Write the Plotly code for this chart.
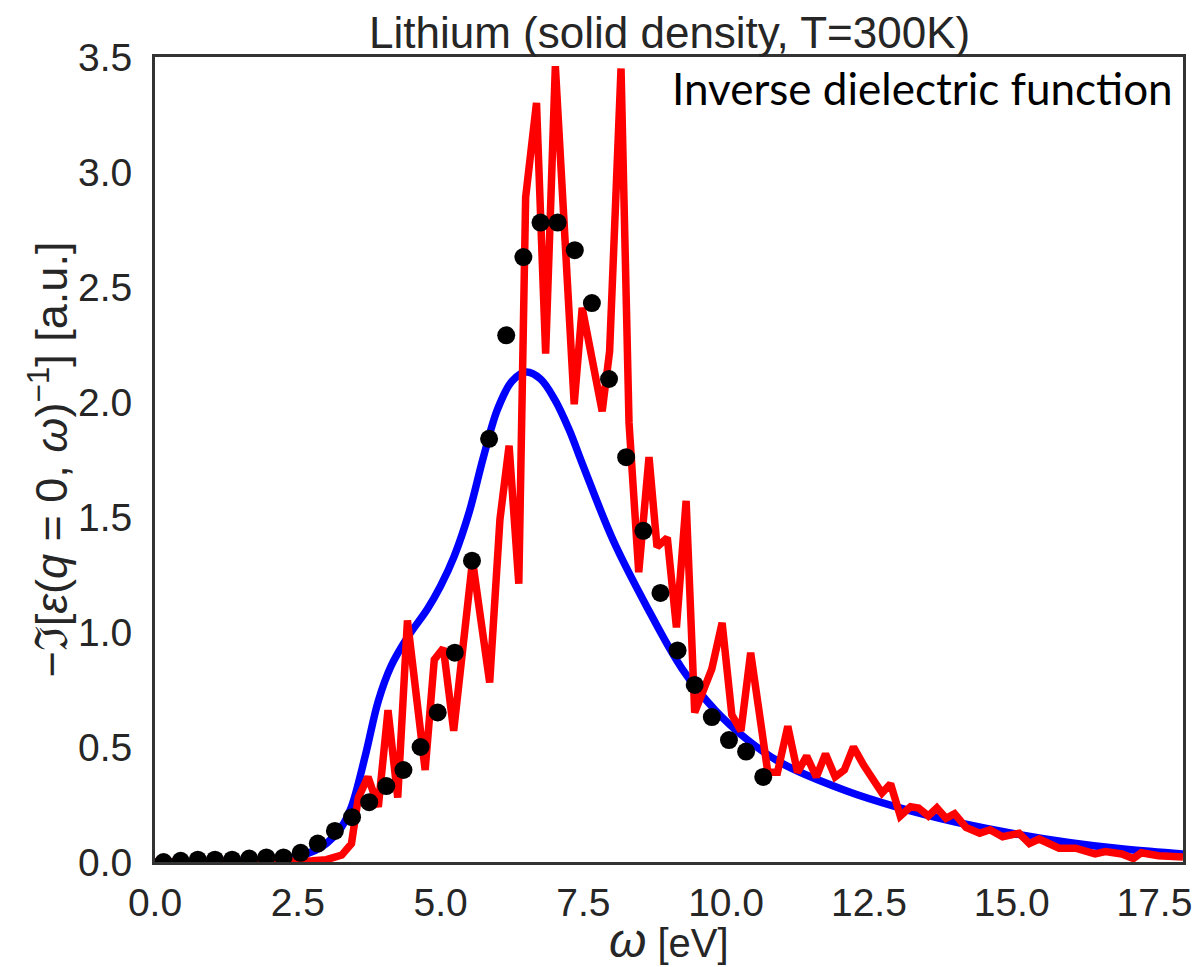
import plotly.graph_objects as go

# Experimental loss function (black dots)
exp_omega = [0.15, 0.45, 0.75, 1.05, 1.35, 1.65, 1.95, 2.25, 2.55, 2.85,
             3.15, 3.45, 3.75, 4.05, 4.35, 4.65, 4.95, 5.25, 5.55, 5.85,
             6.15, 6.45, 6.75, 7.05, 7.35, 7.65, 7.95, 8.25, 8.55, 8.85,
             9.15, 9.45, 9.75, 10.05, 10.35, 10.65]
exp_loss = [0.00, 0.005, 0.01, 0.01, 0.01, 0.015, 0.02, 0.02, 0.04, 0.08,
            0.135, 0.195, 0.26, 0.33, 0.40, 0.50, 0.65, 0.91, 1.31, 1.84,
            2.29, 2.63, 2.78, 2.78, 2.66, 2.43, 2.10, 1.76, 1.44, 1.17,
            0.92, 0.77, 0.63, 0.53, 0.48, 0.37]

# Smooth model (blue)
model_omega = [0.0, 0.5, 1.0, 1.5, 2.0, 2.5, 2.8, 3.0, 3.26, 3.44, 3.68, 3.91,
               4.13, 4.43, 4.77, 5.0, 5.24, 5.5, 5.75, 6.0, 6.25, 6.5, 6.75,
               7.0, 7.25, 7.5, 8.02, 8.59, 9.23, 9.81, 10.38, 10.97, 12.1,
               12.98, 14.0, 15.0, 16.0, 17.0, 18.0]
model_loss = [0.0, 0.002, 0.004, 0.006, 0.01, 0.025, 0.05, 0.08, 0.15, 0.24,
              0.46, 0.70, 0.85, 0.98, 1.10, 1.20, 1.33, 1.52, 1.76, 1.97,
              2.09, 2.13, 2.10, 2.01, 1.88, 1.72, 1.40, 1.12, 0.84, 0.66,
              0.53, 0.43, 0.31, 0.24, 0.175, 0.125, 0.085, 0.055, 0.035]

# Ab initio spectrum (red)
calc_omega = [0.0, 0.5, 1.0, 1.5, 2.0, 2.5, 2.75, 3.0, 3.1, 3.27, 3.44, 3.56,
              3.73, 3.91, 4.08, 4.25, 4.42, 4.73, 4.89, 5.05, 5.23, 5.56,
              5.86, 6.04, 6.20, 6.37, 6.49, 6.68, 6.84, 7.01, 7.34, 7.48,
              7.83, 7.96, 8.16, 8.30, 8.47, 8.65, 8.79, 8.97, 9.13, 9.30,
              9.45, 9.75, 9.93, 10.10, 10.26, 10.43, 10.73, 10.90, 11.08,
              11.25, 11.41, 11.58, 11.74, 11.91, 12.07, 12.23, 12.41, 12.59,
              12.73, 12.88, 13.05, 13.23, 13.37, 13.54, 13.69, 13.85, 14.0,
              14.2, 14.44, 14.62, 14.84, 15.13, 15.31, 15.48, 15.83, 16.12,
              16.46, 16.64, 16.93, 17.13, 17.27, 17.57, 17.93, 18.0]
calc_loss = [0.0, 0.0, 0.0, 0.0, 0.0, 0.0, 0.005, 0.01, 0.015, 0.03, 0.08, 0.28,
             0.37, 0.24, 0.66, 0.28, 1.05, 0.40, 0.88, 0.93, 0.57, 1.31,
             0.78, 1.49, 1.81, 1.21, 2.89, 3.30, 2.21, 3.46, 1.99, 2.41,
             1.96, 2.22, 3.45, 1.91, 1.26, 1.76, 1.37, 1.41, 1.02, 1.57,
             0.65, 0.84, 1.04, 0.64, 0.57, 0.91, 0.39, 0.39, 0.59,
             0.39, 0.46, 0.37, 0.47, 0.37, 0.40, 0.50, 0.42, 0.36,
             0.30, 0.34, 0.20, 0.24, 0.235, 0.20, 0.235, 0.19, 0.21,
             0.15, 0.125, 0.14, 0.11, 0.125, 0.08, 0.10, 0.06, 0.06,
             0.035, 0.045, 0.035, 0.015, 0.04, 0.027, 0.022, 0.022]

x_ticks = [0.0, 2.5, 5.0, 7.5, 10.0, 12.5, 15.0, 17.5]
y_ticks = [0.0, 0.5, 1.0, 1.5, 2.0, 2.5, 3.0, 3.5]

AX_FONT = "Liberation Sans, Arial, sans-serif"
TXT = "#262626"
NB = "\u00a0"

fig = go.Figure()
fig.add_trace(go.Scatter(x=model_omega, y=model_loss, mode="lines",
                         line=dict(color="#0000ff", width=7.5, shape="spline", smoothing=1.0),
                         showlegend=False))
fig.add_trace(go.Scatter(x=calc_omega, y=calc_loss, mode="lines",
                         line=dict(color="#ff0000", width=7.5),
                         showlegend=False))
fig.add_trace(go.Scatter(x=exp_omega, y=exp_loss, mode="markers",
                         marker=dict(color="black", size=18),
                         showlegend=False))

axis_common = dict(showgrid=False, zeroline=False, showline=True, mirror=True,
                   linecolor="#333333", linewidth=3, ticks="",
                   tickfont=dict(family=AX_FONT, size=39, color=TXT))

fig.update_xaxes(range=[0, 18], tickvals=x_ticks, ticklabelstandoff=4,
                 ticktext=[f"{v:.1f}" for v in x_ticks], **axis_common)
fig.update_yaxes(range=[0, 3.5], tickvals=y_ticks, ticklabelstandoff=12,
                 ticktext=[f"{v:.1f}" for v in y_ticks], **axis_common)

fig.add_annotation(text="Lithium (solid density, T=300K)", xref="paper", yref="paper",
                   x=0.5, y=1.0, xanchor="center", yanchor="bottom", yshift=-2,
                   showarrow=False, font=dict(family=AX_FONT, size=44, color=TXT))
fig.add_annotation(text="Inverse dielectric function", xref="paper", yref="paper",
                   x=0.992, y=0.961, xanchor="right", yanchor="middle",
                   showarrow=False, font=dict(family="Lato, sans-serif", size=44, color="black"))
fig.add_annotation(text="<span style='font-size:48px'><i>ω</i></span> [eV]",
                   xref="paper", yref="paper",
                   x=0.5, y=-0.097, xanchor="center", yanchor="middle",
                   showarrow=False, font=dict(family=AX_FONT, size=40, color=TXT))
fig.add_annotation(text=f"−ℑ[<i>ε</i>(<i>q</i>{NB}={NB}0,{NB}<i>ω</i>)<sup>−1</sup>]{NB}[a.u.]",
                   xref="paper", yref="paper", x=-0.104, y=0.5,
                   xanchor="center", yanchor="middle", textangle=-90,
                   showarrow=False, font=dict(family=AX_FONT, size=45, color=TXT))

fig.update_layout(width=1204, height=967, paper_bgcolor="white", plot_bgcolor="white",
                  margin=dict(l=155, r=14, t=57, b=105))

fig.write_html("out.html")
